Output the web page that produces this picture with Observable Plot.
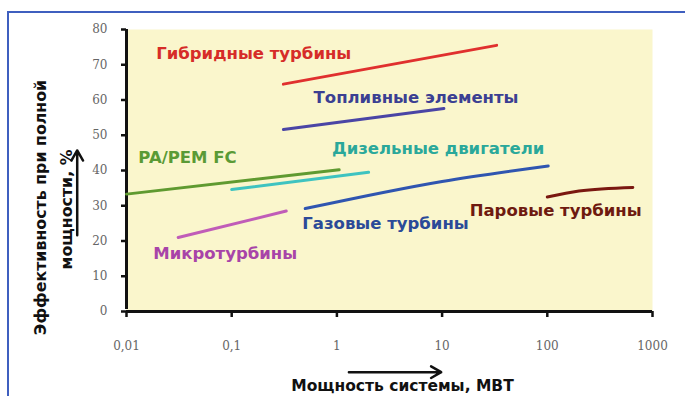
<!DOCTYPE html>
<html>
<head>
<meta charset="utf-8">
<script src="https://cdn.jsdelivr.net/npm/d3@7"></script>
<script src="https://cdn.jsdelivr.net/npm/@observablehq/plot@0.6"></script>
<style>
  html, body { margin: 0; padding: 0; background: #ffffff; }
  #wrap { position: relative; width: 685px; height: 396px; overflow: hidden; }
  #border { position: absolute; left: 7px; top: 11px; width: 700px; height: 420px;
            border-left: 2px solid #3f5fbf; border-top: 2px solid #3f5fbf; pointer-events: none; }
</style>
</head>
<body>
<div id="wrap"><div id="border"></div></div>
<script>
// ---- data ----
const xTicks = [0.01, 0.1, 1, 10, 100, 1000];
const xTickLabels = ["0,01", "0,1", "1", "10", "100", "1000"];
const yTicks = [0, 10, 20, 30, 40, 50, 60, 70, 80];

const seriesNames = ["Гибридные турбины", "Топливные элементы", "PA/PEM FC",
  "Дизельные двигатели", "Газовые турбины", "Микротурбины", "Паровые турбины"];
const lineColors = ["#e0302e", "#4a45a5", "#5f9a30", "#3ec3c0", "#2f55b0", "#c05cb8", "#7a1810"];
const textColors = ["#d62c28", "#3b3f92", "#5a9a35", "#2aa89a", "#2b4a98", "#a844a8", "#6e1a10"];

const hybridX = [0.31, 33];      const hybridY = [64.5, 75.5];
const fuelCellX = [0.31, 10.4];  const fuelCellY = [51.6, 57.6];
const pemX = [0.01, 1.05];       const pemY = [33.3, 40.2];
const dieselX = [0.1, 2.0];      const dieselY = [34.6, 39.5];
const gasX = [0.5, 10, 102];     const gasY = [29.2, 36.9, 41.3];
const microX = [0.031, 0.33];    const microY = [21, 28.5];
const steamX = [100, 200, 650];  const steamY = [32.5, 34.2, 35.2];

const labelX = [0.162, 5.65, 0.038, 9.17, 2.9, 0.0867, 120];
const labelY = [73.2, 60.7, 43.7, 46.2, 25, 16.5, 28.7];

const xTitle = "Мощность системы, МВТ";
const yTitle1 = "Эффективность при полной";
const yTitle2 = "мощности, %";

// ---- build tables ----
const seriesX = [hybridX, fuelCellX, pemX, dieselX, gasX, microX, steamX];
const seriesY = [hybridY, fuelCellY, pemY, dieselY, gasY, microY, steamY];
const lines = [];
seriesNames.forEach((name, s) => {
  seriesX[s].forEach((x, i) => lines.push({name, x, y: seriesY[s][i], color: lineColors[s]}));
});
const labels = seriesNames.map((name, i) => ({name, x: labelX[i], y: labelY[i], color: textColors[i]}));

const sansBold = "DejaVu Sans";

const chart = Plot.plot({
  width: 685,
  height: 396,
  marginLeft: 126,
  marginRight: 33,
  marginTop: 29,
  marginBottom: 85,
  style: {background: "transparent", overflow: "visible"},
  x: {type: "log", domain: [0.01, 1000]},
  y: {domain: [0, 80]},
  color: {type: "identity"},
  marks: [
    Plot.frame({fill: "#faf6cc", stroke: null}),
    Plot.axisY({ticks: yTicks, tickSize: 5, tickPadding: 14, strokeWidth: 2.5, stroke: "#111",
      fill: "#666", fontSize: 12, fontFamily: "DejaVu Serif", label: null}),
    Plot.axisX({ticks: xTicks, tickSize: 6, tickPadding: 24, strokeWidth: 2.5, stroke: "#111",
      fill: "#666", fontSize: 12, fontFamily: "DejaVu Serif", label: null,
      tickFormat: d => xTickLabels[xTicks.indexOf(d)]}),
    Plot.ruleX([0.01], {stroke: "#111", strokeWidth: 3, y1: 0, y2: 80, insetTop: -2}),
    Plot.ruleY([0], {stroke: "#111", strokeWidth: 3}),
    Plot.line(lines, {x: "x", y: "y", z: "name", stroke: "color", strokeWidth: 3, curve: "monotone-x"}),
    Plot.text(labels, {x: "x", y: "y", text: "name", fill: "color", fontSize: 16.5,
      fontWeight: "bold", fontFamily: sansBold}),
    Plot.text([xTitle], {frameAnchor: "bottom", textAnchor: "middle", lineAnchor: "middle",
      dx: 13, dy: 75, text: d => d, fontSize: 15.5,
      fontWeight: "bold", fontFamily: sansBold, fill: "#111"}),
    Plot.text([yTitle1], {frameAnchor: "left", textAnchor: "middle", lineAnchor: "middle",
      dx: -86, dy: 37, rotate: -90, text: d => d,
      fontSize: 15.8, fontWeight: "bold", fontFamily: sansBold, fill: "#111"}),
    Plot.text([yTitle2], {frameAnchor: "left", textAnchor: "middle", lineAnchor: "middle",
      dx: -60, dy: 39, rotate: -90, text: d => d,
      fontSize: 15.8, fontWeight: "bold", fontFamily: sansBold, fill: "#111"}),
    Plot.arrow([0], {x1: () => 1.3, x2: () => 9.8, y1: () => -17.2, y2: () => -17.2,
      stroke: "#111", strokeWidth: 2.5, headLength: 7}),
    Plot.arrow([0], {x1: () => 0.0034, x2: () => 0.0034, y1: () => 21.6, y2: () => 45.7,
      stroke: "#111", strokeWidth: 2.5, headLength: 7})
  ]
});
document.getElementById("wrap").insertBefore(chart, document.getElementById("border"));
</script>
</body>
</html>
